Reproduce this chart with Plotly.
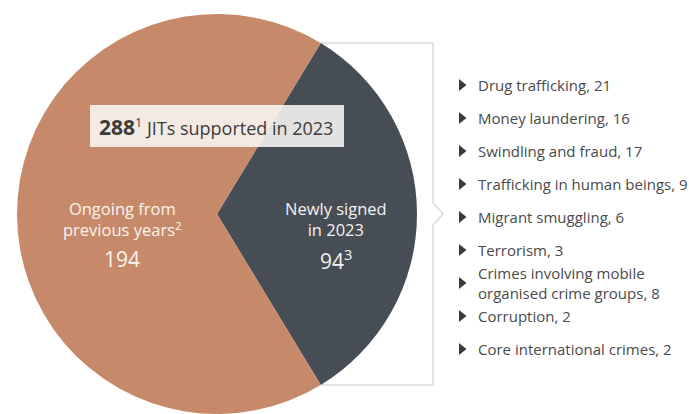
import math
import plotly.graph_objects as go

W, H = 689, 414

# Joint investigation teams supported in 2023
slice_labels = ["Newly signed<br>in 2023", "Ongoing from<br>previous years<sup>2</sup>"]
slice_values = [94, 194]
slice_notes = ["3", ""]
slice_colors = ["#474D54", "#C68A6B"]
total_jits = 288

# Breakdown of newly signed JITs by crime type
crime_types = [
    "Drug trafficking",
    "Money laundering",
    "Swindling and fraud",
    "Trafficking in human beings",
    "Migrant smuggling",
    "Terrorism",
    "Crimes involving mobile<br>organised crime groups",
    "Corruption",
    "Core international crimes",
]
crime_counts = [21, 16, 17, 9, 6, 3, 8, 2, 2]

FONT = "Open Sans"


def px(x):
    return x / W


def py(y):
    return (H - y) / H


# pie geometry (pixels)
cx, cy, r = 217, 214, 200
new_share = slice_values[0] / sum(slice_values)
half_angle = 180 * new_share  # half of the dark slice, in degrees
rotation = 90 - half_angle

fig = go.Figure()
fig.add_trace(go.Pie(
    labels=["Newly signed in 2023", "Ongoing from previous years"],
    values=slice_values,
    marker=dict(colors=slice_colors, line=dict(width=0)),
    sort=False,
    direction="clockwise",
    rotation=rotation,
    textinfo="none",
    hoverinfo="label+value",
    showlegend=False,
    domain=dict(x=[px(cx - r), px(cx + r)], y=[0, 2 * r / H]),
))

shapes = []
annotations = []


def note(x, y, text, size, color, xanchor="center"):
    annotations.append(dict(
        x=px(x), y=py(y), xref="paper", yref="paper",
        xanchor=xanchor, yanchor="middle", showarrow=False, text=text,
        align="left" if xanchor == "left" else "center",
        font=dict(family=FONT, size=size, color=color),
    ))


# bracket tying the dark slice to the breakdown list
a = math.radians(half_angle)
top_y = cy - r * math.sin(a)
bot_y = cy + r * math.sin(a)
corner_x = cx + r * math.cos(a)
bx, tip_x, mid_y = 433, 443, 214
bracket = [
    (corner_x, top_y), (bx, top_y), (bx, mid_y - 11), (tip_x, mid_y),
    (bx, mid_y + 11), (bx, bot_y), (corner_x, bot_y),
]
path = "M " + " L ".join(f"{px(x):.5f},{py(y):.5f}" for x, y in bracket)
shapes.append(dict(type="path", xref="paper", yref="paper", path=path,
                   line=dict(color="#DADADA", width=1.5), layer="below"))

# total box
shapes.append(dict(type="rect", xref="paper", yref="paper",
                   x0=px(90), x1=px(344), y0=py(147), y1=py(105),
                   fillcolor="rgba(252,250,248,0.86)", line=dict(width=0)))
note(216, 127,
     f"<span style='font-size:21px'><b>{total_jits}</b></span>"
     f"<sup>1</sup> JITs supported in 2023",
     18, "#3C3C3C")

# slice labels
label_x = [336, 122]
label_colors = ["#F2F2F2", "#FBF3EE"]
for lx, lab, val, sup, col in zip(label_x, slice_labels, slice_values,
                                  slice_notes, label_colors):
    note(lx, 219, lab, 16.5, col)
    num = f"{val}" + (f"<sup>{sup}</sup>" if sup else "")
    note(lx, 259, num, 21, col)

# breakdown list
row0, step = 85, 33
tri_x, text_x = 459, 476
for i, (name, cnt) in enumerate(zip(crime_types, crime_counts)):
    y = row0 + step * i
    tri = (f"M {px(tri_x):.5f},{py(y - 6):.5f} L {px(tri_x + 7.5):.5f},{py(y):.5f} "
           f"L {px(tri_x):.5f},{py(y + 6):.5f} Z")
    shapes.append(dict(type="path", xref="paper", yref="paper", path=tri,
                       fillcolor="#3A3A3A", line=dict(width=0)))
    note(text_x, y, f"{name}, {cnt}", 15, "#4A4A4A", xanchor="left")

fig.update_layout(
    width=W, height=H,
    margin=dict(l=0, r=0, t=0, b=0),
    paper_bgcolor="white", plot_bgcolor="white",
    shapes=shapes, annotations=annotations,
    font=dict(family=FONT),
)

fig.write_html("out.html")
